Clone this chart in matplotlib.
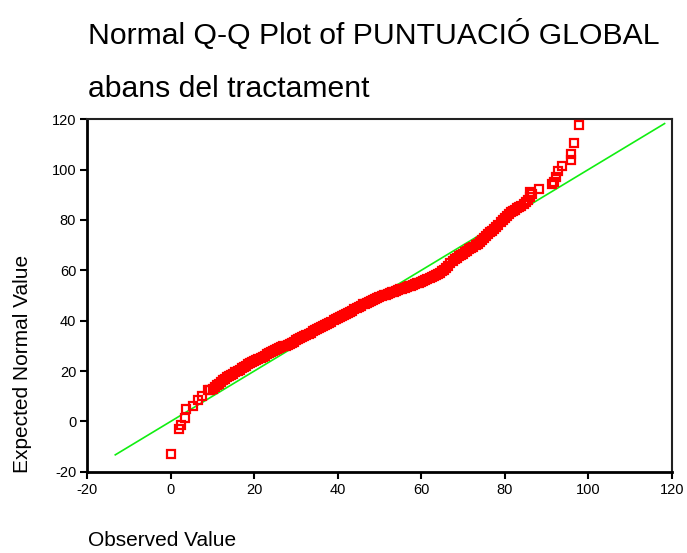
import matplotlib.pyplot as plt

plt.rcParams['font.family'] = ['Liberation Sans', 'DejaVu Sans']
plt.rcParams['axes.unicode_minus'] = False

# Observed scores and their expected normal values: low tail
tail_low_obs = [0.1, 2.0, 2.4, 3.4, 3.6, 5.2, 6.5, 7.5, 9.0]
tail_low_exp = [-12.8, -3.1, -1.4, 1.5, 4.8, 6.1, 8.5, 10.0, 12.5]

# dense middle of the distribution
mid_obs = [9.5, 10, 10.5, 11, 11.5, 12, 12.5, 13, 13.5, 14, 14.5, 15, 15.5, 16, 16.5,
           17, 17.5, 18, 18.5, 19, 19.5, 20, 20.5, 21, 21.5, 22, 22.5, 23, 23.5, 24,
           24.5, 25, 25.5, 26, 26.5, 27, 27.5, 28, 28.5, 29, 29.5, 30, 30.5, 31, 31.5,
           32, 32.5, 33, 33.5, 34, 34.5, 35, 35.5, 36, 36.5, 37, 37.5, 38, 38.5, 39,
           39.5, 40, 40.5, 41, 41.5, 42, 42.5, 43, 43.5, 44, 44.5, 45, 45.5, 46, 46.5,
           47, 47.5, 48, 48.5, 49, 49.5, 50, 50.5, 51, 51.5, 52, 52.5, 53, 53.5, 54,
           54.5, 55, 55.5, 56, 56.5, 57, 57.5, 58, 58.5, 59, 59.5, 60, 60.5, 61, 61.5,
           62, 62.5, 63, 63.5, 64, 64.5, 65, 65.5, 66, 66.5, 67, 67.5, 68, 68.5, 69,
           69.5, 70, 70.5, 71, 71.5, 72, 72.5, 73, 73.5, 74, 74.5, 75, 75.5, 76, 76.5,
           77, 77.5, 78, 78.5, 79, 79.5, 80, 80.5, 81, 81.5, 82, 82.5, 83, 83.5, 84,
           84.5, 85, 85.5, 86, 86.5]
mid_exp = [12.6, 13.0, 13.8, 14.5, 15.0, 15.6, 16.3, 16.8, 17.5, 18.0, 18.4, 19.0, 19.6,
           20.0, 20.6, 21.0, 21.6, 22.0, 22.6, 23.0, 23.5, 24.0, 24.3, 24.8, 25.2, 25.6,
           26.1, 26.6, 27.2, 27.6, 27.9, 28.3, 28.6, 29.0, 29.4, 29.8, 30.1, 30.4, 30.8,
           31.2, 31.7, 32.2, 32.6, 33.0, 33.5, 34.0, 34.4, 34.8, 35.2, 35.7, 36.1, 36.5,
           36.9, 37.3, 37.8, 38.3, 38.7, 39.2, 39.6, 40.1, 40.5, 41.0, 41.4, 41.8, 42.2,
           42.6, 43.0, 43.5, 44.0, 44.5, 45.1, 45.6, 46.0, 46.5, 46.8, 47.2, 47.6, 48.0,
           48.4, 48.7, 49.0, 49.3, 49.7, 50.0, 50.3, 50.6, 50.9, 51.2, 51.5, 51.8, 52.1,
           52.4, 52.7, 53.0, 53.3, 53.6, 53.9, 54.2, 54.5, 54.8, 55.1, 55.5, 55.8, 56.1,
           56.4, 56.8, 57.2, 57.6, 58.0, 58.5, 59.0, 59.6, 60.3, 61.0, 61.9, 62.8, 63.7,
           64.5, 65.0, 65.5, 66.0, 66.6, 67.2, 67.8, 68.3, 68.8, 69.4, 70.0, 70.6, 71.3,
           72.0, 72.8, 73.6, 74.5, 75.1, 75.8, 76.6, 77.4, 78.2, 79.0, 79.8, 80.6, 81.5,
           82.4, 83.0, 83.6, 84.1, 84.6, 85.0, 85.5, 86.2, 87.0, 88.0, 89.0, 90.5]

# high tail
tail_high_obs = [86.0, 88.3, 91.3, 91.9, 92.3, 92.7, 93.7, 95.9, 95.9, 96.6, 97.7]
tail_high_exp = [91.3, 92.2, 94.3, 95.2, 97.2, 99.5, 101.5, 103.7, 106.4, 110.5, 117.6]

observed = tail_low_obs + mid_obs + tail_high_obs
expected = tail_low_exp + mid_exp + tail_high_exp

# reference line y = x
line_ends = [-13.3, 118.3]

ticks = [-20, 0, 20, 40, 60, 80, 100, 120]

fig = plt.figure(figsize=(6.87, 5.53), dpi=100)
ax = fig.add_axes([0.1271, 0.147, 0.8506, 0.6373])

ax.plot(line_ends, line_ends, color='#11ee11', lw=1.2, zorder=2)
ax.plot(observed, expected, ls='none', marker='s', markersize=6.4,
        markerfacecolor='none', markeredgecolor='#ff0000', markeredgewidth=1.6,
        zorder=3)

ax.set_xlim(-20, 120)
ax.set_ylim(-20, 120)
ax.set_xticks(ticks)
ax.set_yticks(ticks)
ax.tick_params(direction='out', length=5, width=1.5, labelsize=10.5,
               top=False, right=False, pad=3)
for side in ['left', 'bottom']:
    ax.spines[side].set_linewidth(2)
for side in ['top', 'right']:
    ax.spines[side].set_linewidth(1.5)
    ax.spines[side].set_color('#222222')

fig.text(88 / 687, 1 - 44 / 553, 'Normal Q-Q Plot of PUNTUACIÓ GLOBAL',
         fontsize=21.7, ha='left', va='baseline')
fig.text(88 / 687, 1 - 97 / 553, 'abans del tractament',
         fontsize=21.7, ha='left', va='baseline')
fig.text(88 / 687, 1 - 546 / 553, 'Observed Value',
         fontsize=15, ha='left', va='baseline')
fig.text(32 / 687, 1 - 473 / 553, 'Expected Normal Value',
         fontsize=15, rotation=90, ha='right', va='bottom')

fig.savefig('out.png', dpi=100)
